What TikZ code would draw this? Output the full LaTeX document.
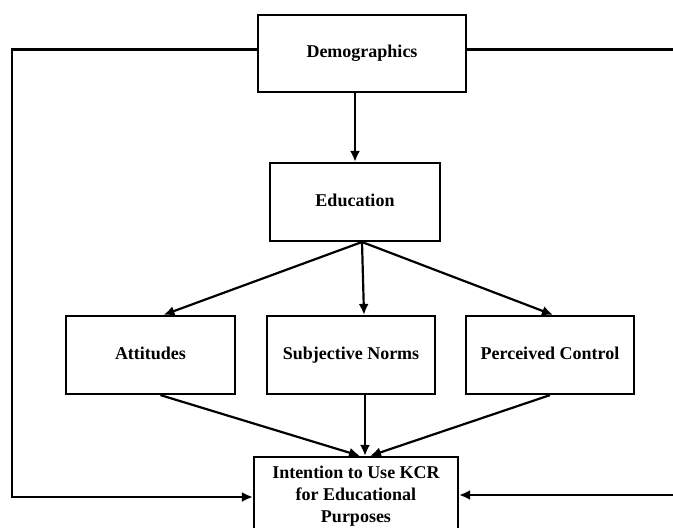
\documentclass[tikz,border=0pt]{standalone}
\usepackage{fontspec}
\setmainfont{Liberation Serif}
\usepackage{tikz}
\usetikzlibrary{arrows.meta}
\newcommand{\boxstrut}{\rule[-5pt]{0pt}{18pt}}
\tikzset{
BOX/.style ={draw=black,line width=2.2pt,inner sep=0pt,align=center,execute at begin node=\boxstrut,
	font=\fontsize{18}{22}\selectfont\bfseries},
ARC/.style ={draw=black,line join=miter,line width=2.2pt},
ARROW/.style ={ARC,-{Latex[length=11pt,width=10pt]}},
}
\begin{document}
\begin{tikzpicture}
[x=1pt,y=-1pt]
	\useasboundingbox (0,0) rectangle (673,528);
	\clip (0,0) rectangle (673,528); %Frame
	%Boxes
	\node[BOX,minimum width=208pt,minimum height=77pt] (dem) at (362,53.5) {Demographics};
	\node[BOX,minimum width=170pt,minimum height=78pt] (edu) at (355,202) {Education};
	\node[BOX,minimum width=169pt,minimum height=78pt] (att) at (150.5,355) {Attitudes};
	\node[BOX,minimum width=168pt,minimum height=78pt] (sub) at (351,355) {Subjective Norms};
	\node[BOX,minimum width=168pt,minimum height=78pt] (per) at (550,355) {Perceived Control};
	\node[BOX,minimum width=204pt,minimum height=80pt] (int) at (356,497)
		{Intention to Use KCR\\for Educational\\Purposes};
	\coordinate (LEFT) at (12,0);
	\coordinate (RIGHT) at (680,0);
	\coordinate (fan) at (362,242);
	%Arrows
	\path[ARROW] (edu.north |- dem.south) -- (edu.north);
	\path[ARROW] (fan) -- ([xshift=13pt]att.north);
	\path[ARROW] (fan) -- ([xshift=13pt]sub.north);
	\path[ARROW] (fan) -- ([xshift=3pt]per.north);
	\path[ARROW] ([xshift=10pt]att.south) -- ([xshift=4pt]int.north);
	\path[ARROW] ([xshift=14pt]sub.south) -- ([xshift=9pt]int.north);
	\path[ARROW] (per.south) -- ([xshift=14pt]int.north);
	%Side loops
	\path[ARROW] ([yshift=4pt]dem.west) -| (LEFT |- int.west) -- (int.west);
	\path[ARROW] ([yshift=4pt]dem.east) -| ([yshift=2pt]RIGHT |- int.east) -- ([yshift=2pt]int.east);
\end{tikzpicture}
\end{document}
